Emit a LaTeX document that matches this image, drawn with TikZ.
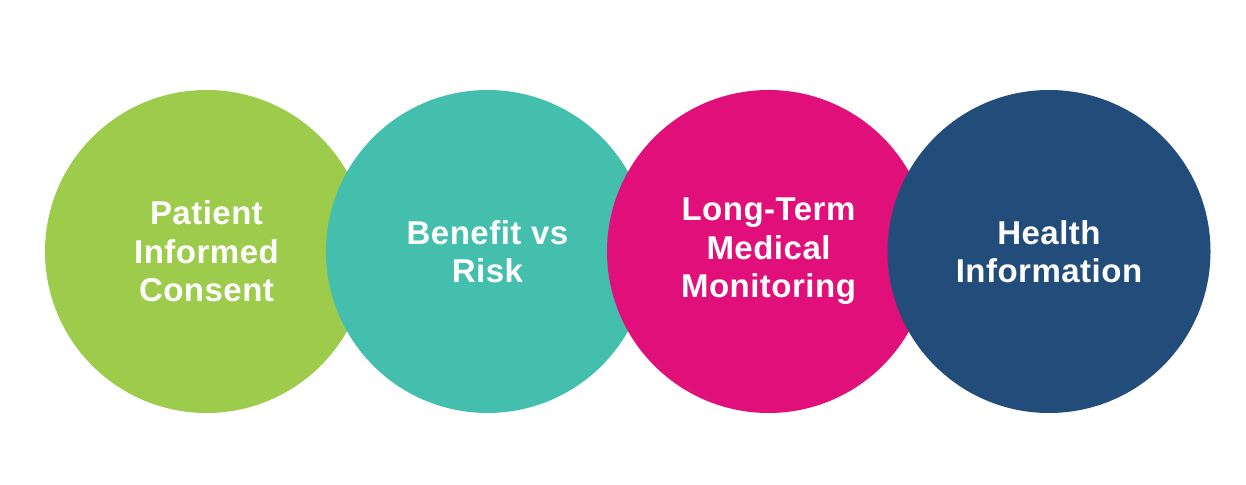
\documentclass[tikz,border=0pt]{standalone}
\usepackage{fontspec}
\setmainfont[LetterSpace=1.5]{Liberation Sans}
\definecolor{cgreen}{HTML}{9DCB4B}
\definecolor{cteal}{HTML}{44BEAD}
\definecolor{cpink}{HTML}{E00F7A}
\definecolor{cnavy}{HTML}{224C7A}
\tikzset{
  bubble/.style={circle, draw=none, minimum size=323pt, inner sep=0pt, align=center,
    text=white, font=\bfseries\fontsize{33}{38.5}\selectfont}
}
\begin{document}
\begin{tikzpicture}[x=1pt,y=1pt]
\useasboundingbox (0,0) rectangle (1246,484);
\node[bubble, fill=cgreen] (c1) at (206.5,232.5) {Patient\\Informed\\Consent};
\node[bubble, fill=cteal] (c2) at (487.5,232.5) {Benefit vs\\Risk};
\node[bubble, fill=cpink] (c3) at (768.5,232.5) {Long-Term\\Medical\\Monitoring};
\node[bubble, fill=cnavy] (c4) at (1049,232.5) {Health\\Information};
\end{tikzpicture}
\end{document}
